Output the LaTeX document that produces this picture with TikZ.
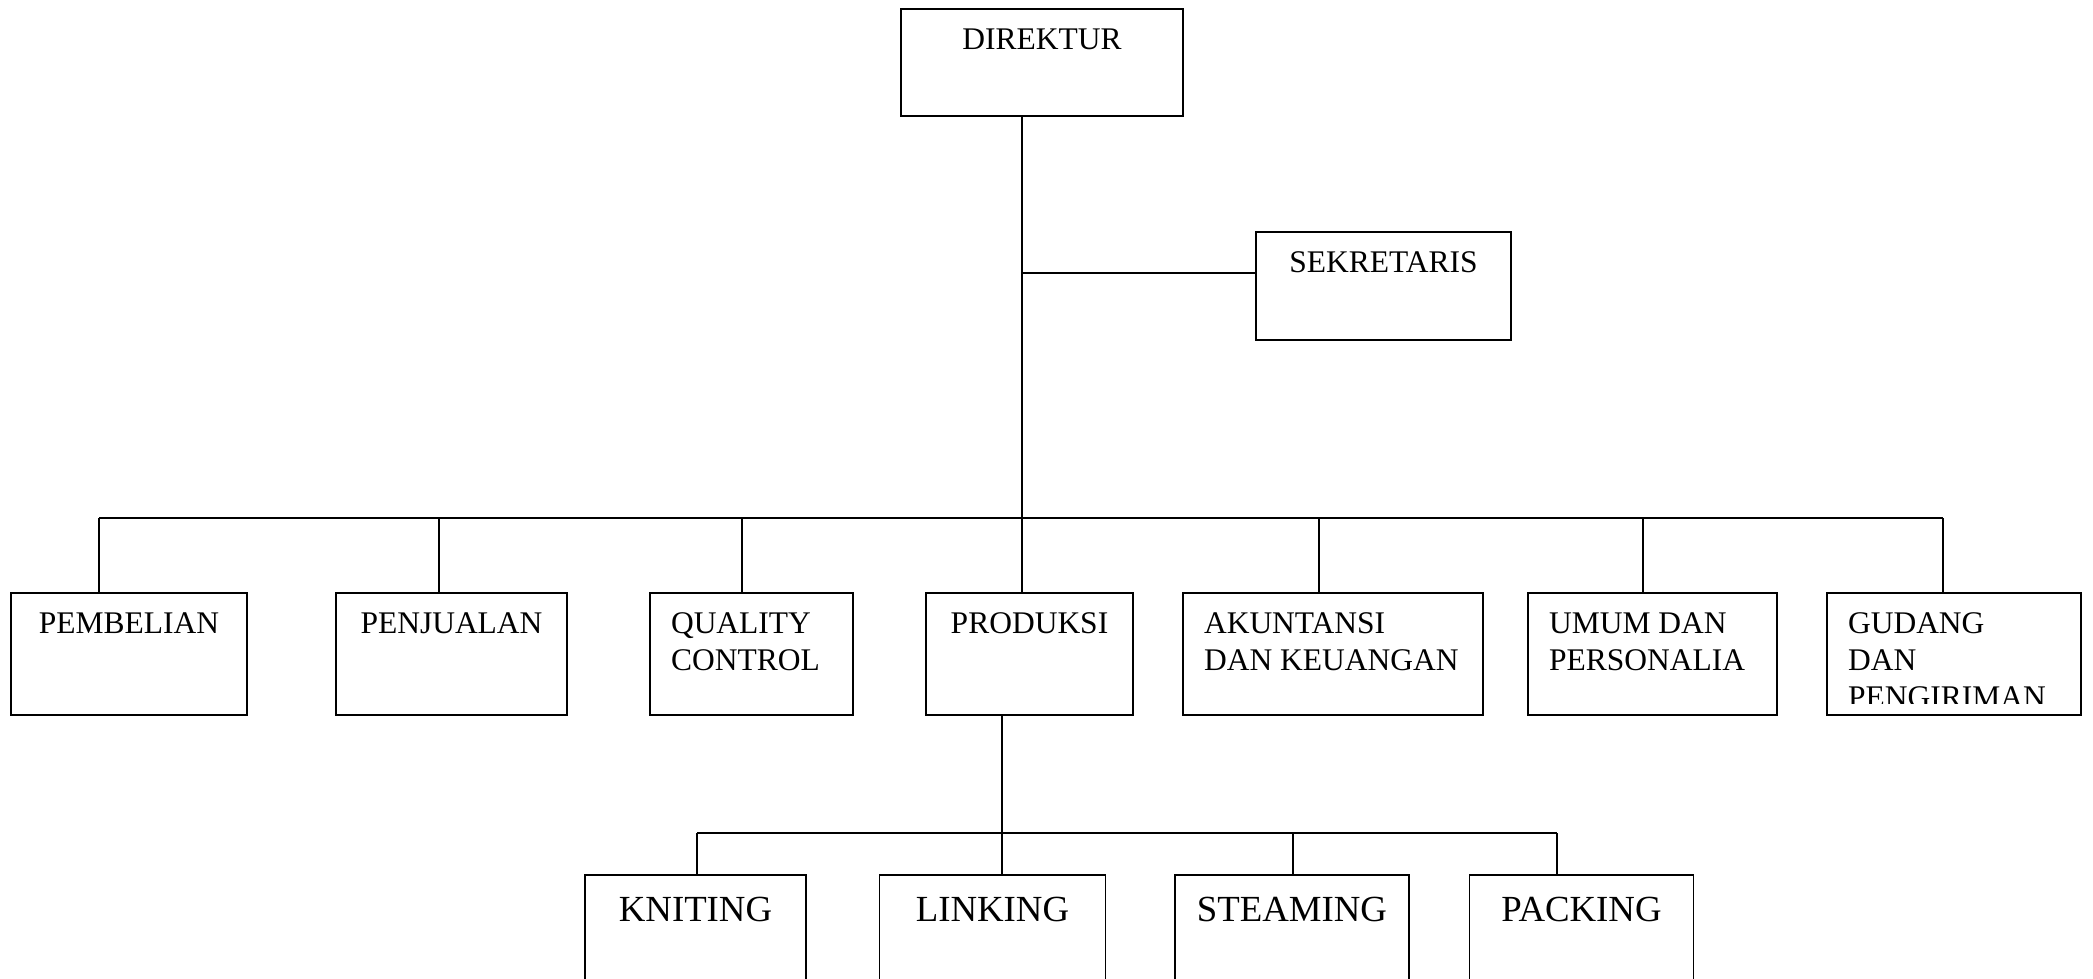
\documentclass[tikz,border=0pt]{standalone}
\usepackage{fontspec}
\setmainfont{Liberation Serif}
\usetikzlibrary{calc}
\tikzset{
  box/.style={draw, line width=1.6pt, inner sep=0pt, outer sep=0pt},
  conn/.style={line width=1.6pt},
  txt/.style={font=\fontsize{31.5}{37}\selectfont, inner sep=0pt, outer sep=0pt, align=left},
  bigtxt/.style={font=\fontsize{36.8}{44}\selectfont, inner sep=0pt, outer sep=0pt},
  ctop/.style={label={[txt,anchor=north,yshift=-20pt]north:{#1}}},
  ltop/.style={label={[txt,anchor=north west,xshift=21pt,yshift=-20pt]north west:{#1}}},
  btop/.style={label={[bigtxt,anchor=north,yshift=-22pt]north:{#1}}}
}
\begin{document}
\begin{tikzpicture}[x=1pt,y=-1pt]
\useasboundingbox (0,0) rectangle (2093,979);
% top level
\node[box, minimum width=282pt, minimum height=107pt, ctop=DIREKTUR] (dir) at (1042,62.5) {};
\node[box, minimum width=255pt, minimum height=108pt, ctop=SEKRETARIS] (sek) at (1383.5,286) {};
% second row
\node[box, minimum width=236pt, minimum height=122pt, ctop=PEMBELIAN] (pemb) at (129,654) {};
\node[box, minimum width=231pt, minimum height=122pt, ctop=PENJUALAN] (penj) at (451.5,654) {};
\node[box, minimum width=203pt, minimum height=122pt, ltop={QUALITY\\CONTROL}] (qc) at (751.5,654) {};
\node[box, minimum width=207pt, minimum height=122pt, ctop=PRODUKSI] (prod) at (1029.5,654) {};
\node[box, minimum width=300pt, minimum height=122pt, ltop={AKUNTANSI\\DAN KEUANGAN}] (akun) at (1333,654) {};
\node[box, minimum width=249pt, minimum height=122pt, ltop={UMUM DAN\\PERSONALIA}] (umum) at (1652.5,654) {};
\node[box, minimum width=254pt, minimum height=122pt] (gud) at (1954,654) {};
\begin{scope}
  \clip (1827,593) rectangle (2081,703);
  \node[txt, anchor=north west] (gudt) at (1848,613) {GUDANG\\DAN\\PENGIRIMAN};
\end{scope}
% third row
\node[box, minimum width=221pt, minimum height=104.6pt, btop=KNITING] (knit) at (695.5,927.3) {};
\node[box, minimum width=226pt, minimum height=104.6pt, btop=LINKING] (link) at (992.5,927.3) {};
\node[box, minimum width=234pt, minimum height=104.6pt, btop=STEAMING] (steam) at (1292,927.3) {};
\node[box, minimum width=224pt, minimum height=104.6pt, btop=PACKING] (pack) at (1581.5,927.3) {};
% connectors, top
\coordinate (trunk) at (1022,518);
\coordinate (sekj) at (1022,273);
\draw[conn] (dir.south -| trunk) -- (trunk) -- (trunk |- prod.north);
\draw[conn] (sekj) -- (sekj -| sek.west);
\coordinate (d1) at (99,518);
\coordinate (d2) at (439,518);
\coordinate (d3) at (742,518);
\coordinate (d5) at (1319,518);
\coordinate (d6) at (1643,518);
\coordinate (d7) at (1943,518);
\draw[conn] (d1) -- (d7);
\draw[conn] (d1) -- (d1 |- pemb.north);
\draw[conn] (d2) -- (d2 |- penj.north);
\draw[conn] (d3) -- (d3 |- qc.north);
\draw[conn] (d5) -- (d5 |- akun.north);
\draw[conn] (d6) -- (d6 |- umum.north);
\draw[conn] (d7) -- (d7 |- gud.north);
% connectors, production
\coordinate (bus2) at (1002,833);
\coordinate (k1) at (697,833);
\coordinate (k3) at (1293,833);
\coordinate (k4) at (1557,833);
\draw[conn] (prod.south -| bus2) -- (bus2) -- (bus2 |- link.north);
\draw[conn] (k1) -- (k4);
\draw[conn] (k1) -- (k1 |- knit.north);
\draw[conn] (k3) -- (k3 |- steam.north);
\draw[conn] (k4) -- (k4 |- pack.north);
\end{tikzpicture}
\end{document}
